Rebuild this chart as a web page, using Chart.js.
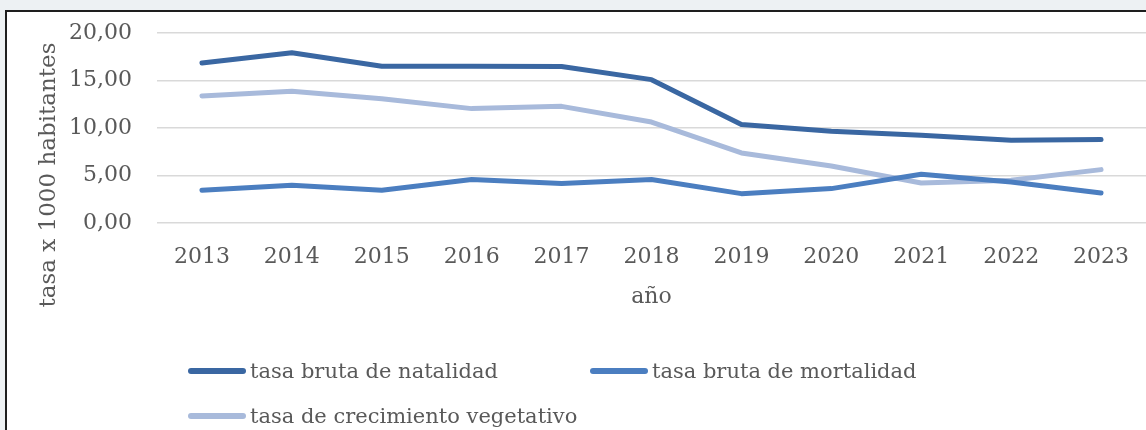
<!DOCTYPE html>
<html>
<head>
<meta charset="utf-8">
<script src="https://cdn.jsdelivr.net/npm/chart.js@4.4.1/dist/chart.umd.min.js"></script>
<style>
  html, body { margin: 0; padding: 0; }
  body { width: 1146px; height: 430px; overflow: hidden; background: #edf1f3; position: relative; font-family: 'DejaVu Serif', serif; }
  #frame { position: absolute; left: 5px; top: 10px; right: -10px; bottom: -10px; background: #fff; border-left: 2px solid #1e1e1e; border-top: 2px solid #1e1e1e; }
  #chart { position: absolute; left: 0; top: 0; }
  .leg { position: absolute; display: flex; align-items: center; color: #595959; font-size: 21px; white-space: nowrap; }
  .leg i { display: inline-block; width: 58px; height: 6px; border-radius: 3px; margin-right: 4px; }
</style>
</head>
<body>
<div id="frame"></div>
<canvas id="chart" width="1146" height="430"></canvas>
<div id="legend"></div>
<script>
const years = ['2013', '2014', '2015', '2016', '2017', '2018', '2019', '2020', '2021', '2022', '2023'];
const natalidad = [16.84, 17.93, 16.49, 16.50, 16.48, 15.09, 10.36, 9.65, 9.23, 8.70, 8.78];
const mortalidad = [3.44, 3.97, 3.44, 4.57, 4.15, 4.57, 3.09, 3.62, 5.13, 4.32, 3.16];
const crecimiento = [13.37, 13.86, 13.09, 12.04, 12.28, 10.63, 7.37, 6.00, 4.21, 4.49, 5.62];
const seriesNames = ['tasa bruta de natalidad', 'tasa bruta de mortalidad', 'tasa de crecimiento vegetativo'];
const seriesColors = ['#3a67a2', '#4b7ec0', '#a8badb'];
const yTicks = [0, 5, 10, 15, 20];

const TEXT = '#595959';
const FONT = "'DejaVu Serif', serif";

// y title centred like Excel does it (over the labels too), so drawn by hand
const yTitlePlugin = {
  id: 'yTitle',
  afterDraw(chart) {
    const ctx = chart.ctx;
    ctx.save();
    ctx.translate(49, 175);
    ctx.rotate(-Math.PI / 2);
    ctx.fillStyle = TEXT;
    ctx.font = '23px ' + FONT;
    ctx.textAlign = 'center';
    ctx.textBaseline = 'middle';
    ctx.fillText('tasa x 1000 habitantes', 0, 0);
    ctx.restore();
  }
};

const values = [natalidad, mortalidad, crecimiento];

new Chart(document.getElementById('chart'), {
  type: 'line',
  data: {
    labels: years,
    datasets: values.map((d, i) => ({
      label: seriesNames[i],
      data: d,
      borderColor: seriesColors[i],
      backgroundColor: seriesColors[i],
      borderWidth: 5,
      borderCapStyle: 'round',
      borderJoinStyle: 'round',
      pointRadius: 0,
      tension: 0,
      fill: false
    }))
  },
  options: {
    responsive: false,
    animation: false,
    layout: { padding: { top: 33, left: 0, right: 0, bottom: 0 } },
    plugins: { legend: { display: false }, tooltip: { enabled: false } },
    scales: {
      x: {
        offset: true,
        grid: { display: false },
        border: { display: false },
        ticks: { color: TEXT, font: { family: FONT, size: 22 }, padding: 13, maxRotation: 0 },
        title: { display: true, text: 'año', color: TEXT, font: { family: FONT, size: 22 }, padding: { top: 0, bottom: 120 } },
        afterFit(scale) { scale.height = 207; }
      },
      y: {
        min: 0,
        max: 20,
        afterBuildTicks(scale) { scale.ticks = yTicks.map(v => ({ value: v })); },
        // invisible tick marks make the gap, so tick padding stays small at the top
        grid: { color: '#d9d9d9', lineWidth: 1.5, drawTicks: true, tickLength: 20, tickColor: 'rgba(0,0,0,0)' },
        border: { display: false },
        ticks: {
          color: TEXT,
          font: { family: FONT, size: 22 },
          padding: 5,
          callback: v => v.toFixed(2).replace('.', ',')
        },
        afterFit(scale) { scale.width = 157; }
      }
    }
  },
  plugins: [yTitlePlugin]
});

// legend in Excel layout: two rows, second row starts under the first
const legendPos = [[188, 371], [590, 371], [188, 416]];
const legend = document.getElementById('legend');
seriesNames.forEach((name, i) => {
  const item = document.createElement('div');
  item.className = 'leg';
  item.style.left = legendPos[i][0] + 'px';
  item.style.top = (legendPos[i][1] - 14) + 'px';
  item.style.height = '28px';
  const sw = document.createElement('i');
  sw.style.background = seriesColors[i];
  item.appendChild(sw);
  item.appendChild(document.createTextNode(name));
  legend.appendChild(item);
});
</script>
</body>
</html>
